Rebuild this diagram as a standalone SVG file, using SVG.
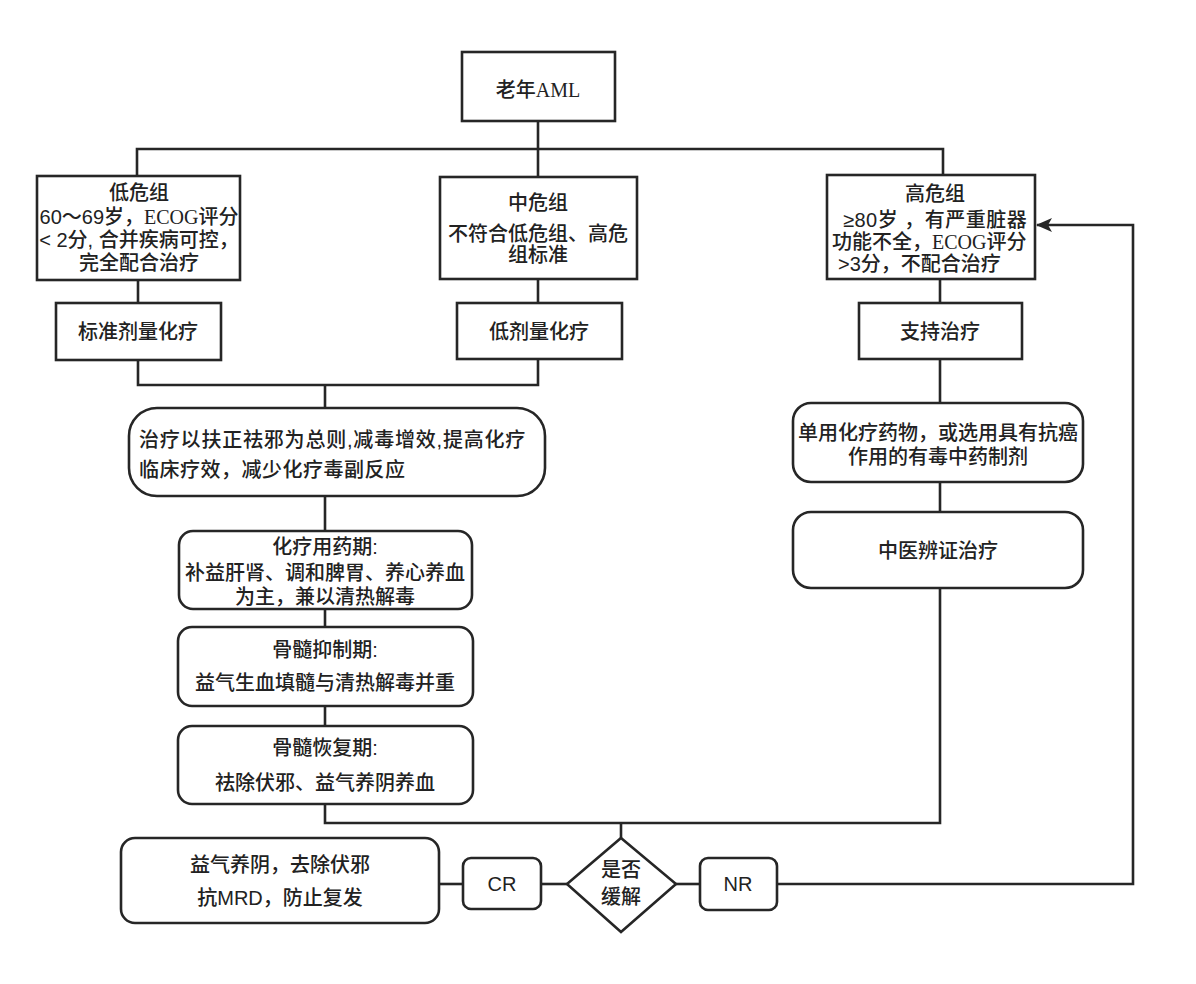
<svg xmlns="http://www.w3.org/2000/svg" width="1196" height="984" viewBox="0 0 1196 984">
<defs>
<style>
.box{fill:#fff;stroke:#262626;stroke-width:2.6}
.ln{fill:none;stroke:#262626;stroke-width:2.6}
.t{font-family:"Liberation Sans","Noto Sans CJK SC",sans-serif;font-size:20px;font-weight:500;fill:#222;text-anchor:middle}
.s{text-anchor:start}
.serif{font-family:"Liberation Serif","Noto Sans CJK SC",serif}
</style>
<marker id="arrow" viewBox="0 0 16 14" refX="15" refY="7" markerWidth="16" markerHeight="14" markerUnits="userSpaceOnUse" orient="auto">
<path d="M0,0 L16,7 L0,14 L4,7 z" fill="#262626"/>
</marker>
</defs>
<rect width="1196" height="984" fill="#fff"/>
<g id="connectors">
<path class="ln" d="M538,121 V149"/>
<path class="ln" d="M137,176 V149 H943 V175"/>
<path class="ln" d="M538,149 V177"/>
<path class="ln" d="M138,280 V303"/>
<path class="ln" d="M538,279 V303"/>
<path class="ln" d="M940,279 V303"/>
<path class="ln" d="M138,360 V385 H538 V359"/>
<path class="ln" d="M325,385 V408"/>
<path class="ln" d="M325,496 V531"/>
<path class="ln" d="M325,609 V627"/>
<path class="ln" d="M325,706 V726"/>
<path class="ln" d="M325,804 V823 H940 V588"/>
<path class="ln" d="M940,359 V403"/>
<path class="ln" d="M940,482 V512"/>
<path class="ln" d="M621,823 V838"/>
<path class="ln" d="M439,884 H463"/>
<path class="ln" d="M541,884 H567"/>
<path class="ln" d="M676,884 H700"/>
<path class="ln" d="M777,884 H1133 V225 H1037" marker-end="url(#arrow)"/>
</g>
<g id="n-root">
<rect class="box" x="462" y="52" width="153" height="69"/>
<text class="t" x="538" y="97">老年<tspan class="serif">AML</tspan></text>
</g>
<g id="n-low">
<rect class="box" x="37" y="176" width="203" height="104"/>
<text class="t" x="139" y="200">低危组</text>
<text class="t" x="139" y="224">60～69岁，<tspan class="serif">ECOG</tspan>评分</text>
<text class="t" x="139" y="247">&lt; 2分, 合并疾病可控，</text>
<text class="t" x="139" y="270">完全配合治疗</text>
</g>
<g id="n-mid">
<rect class="box" x="440" y="177" width="197" height="102"/>
<text class="t" x="538" y="210">中危组</text>
<text class="t" x="538" y="241">不符合低危组、高危</text>
<text class="t" x="538" y="262">组标准</text>
</g>
<g id="n-high">
<rect class="box" x="827" y="175" width="208" height="104"/>
<text class="t" x="935" y="201">高危组</text>
<text class="t s" x="843" y="227" letter-spacing="0.5">≥80岁 ，有严重脏器</text>
<text class="t s" x="832" y="249">功能不全，<tspan class="serif">ECOG</tspan>评分</text>
<text class="t s" x="838" y="271">&gt;3分，不配合治疗</text>
</g>
<g id="n-std">
<rect class="box" x="56" y="303" width="165" height="57"/>
<text class="t" x="138" y="339">标准剂量化疗</text>
</g>
<g id="n-lowdose">
<rect class="box" x="457" y="303" width="165" height="56"/>
<text class="t" x="539" y="339">低剂量化疗</text>
</g>
<g id="n-support">
<rect class="box" x="859" y="303" width="163" height="56"/>
<text class="t" x="940" y="339">支持治疗</text>
</g>
<g id="n-principle">
<rect class="box" x="129" y="408" width="416" height="88" rx="28"/>
<text class="t s" x="139" y="447" letter-spacing="0.8">治疗以扶正祛邪为总则,减毒增效,提高化疗</text>
<text class="t s" x="139" y="477" letter-spacing="0.5">临床疗效，减少化疗毒副反应</text>
</g>
<g id="n-chemo">
<rect class="box" x="179" y="531" width="293" height="78" rx="14"/>
<text class="t" x="325" y="554">化疗用药期:</text>
<text class="t" x="325" y="580">补益肝肾、调和脾胃、养心养血</text>
<text class="t" x="325" y="604">为主，兼以清热解毒</text>
</g>
<g id="n-suppress">
<rect class="box" x="178" y="627" width="295" height="79" rx="14"/>
<text class="t" x="325" y="657">骨髓抑制期:</text>
<text class="t" x="325" y="690">益气生血填髓与清热解毒并重</text>
</g>
<g id="n-recover">
<rect class="box" x="178" y="726" width="295" height="78" rx="14"/>
<text class="t" x="325" y="755">骨髓恢复期:</text>
<text class="t" x="325" y="790">祛除伏邪、益气养阴养血</text>
</g>
<g id="n-single">
<rect class="box" x="793" y="403" width="290" height="79" rx="18"/>
<text class="t" x="938" y="440">单用化疗药物，或选用具有抗癌</text>
<text class="t" x="938" y="464">作用的有毒中药制剂</text>
</g>
<g id="n-tcm">
<rect class="box" x="793" y="512" width="290" height="76" rx="18"/>
<text class="t" x="938" y="558">中医辨证治疗</text>
</g>
<g id="n-maint">
<rect class="box" x="121" y="838" width="318" height="85" rx="14"/>
<text class="t" x="280" y="872">益气养阴，去除伏邪</text>
<text class="t" x="280" y="905">抗MRD，防止复发</text>
</g>
<g id="n-cr">
<rect class="box" x="463" y="858" width="78" height="51" rx="8"/>
<text class="t" x="502" y="891">CR</text>
</g>
<g id="n-decision">
<polygon class="box" points="621,838 676,884 621,932 567,884"/>
<text class="t" x="621" y="877">是否</text>
<text class="t" x="621" y="904">缓解</text>
</g>
<g id="n-nr">
<rect class="box" x="700" y="858" width="77" height="52" rx="8"/>
<text class="t" x="738" y="891">NR</text>
</g>
</svg>
